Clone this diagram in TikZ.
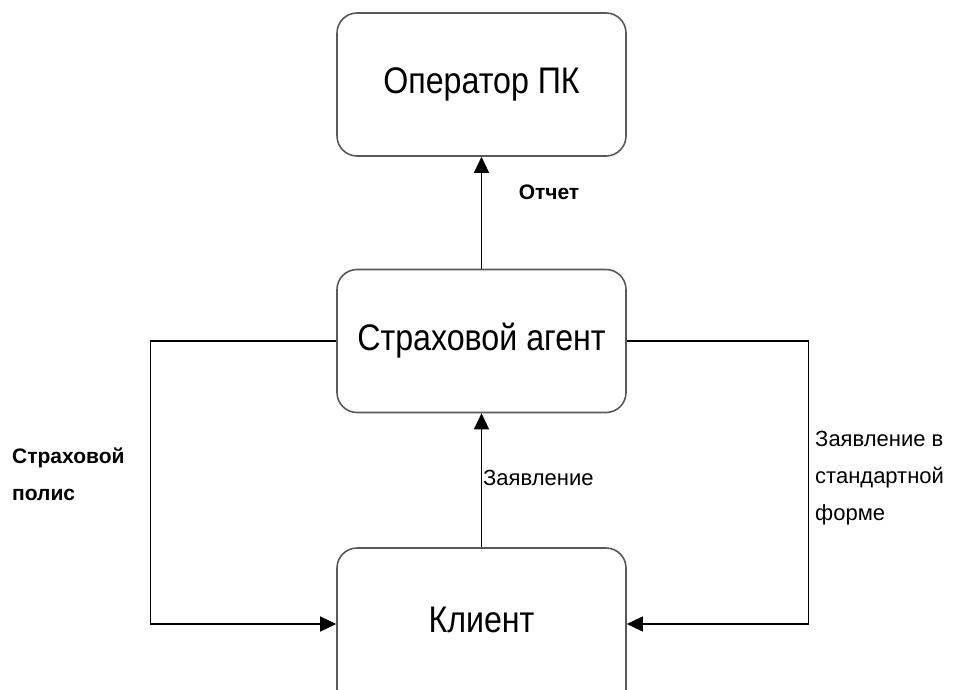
\documentclass[tikz,border=0pt]{standalone}
\usepackage{fontspec}
\setmainfont{Liberation Sans}
\usetikzlibrary{arrows.meta}

% condensed box text
\newcommand{\narrowtext}[1]{\scalebox{0.87}[1]{#1}}

\tikzset{
    unit/.style={draw=black!65,
        line width=1.6pt,
        rounded corners=20pt,
        minimum width=289pt,
        minimum height=143pt,
        inner sep=0pt,
        align=center,
        font=\fontsize{37}{42}\selectfont},
    flowtext/.style={inner sep=0pt,
        align=left,
        font=\fontsize{22}{37}\selectfont},
    flow/.style={line width=1.3pt,
        -{Triangle[length=16pt,width=15pt]}}
}

\begin{document}
\begin{tikzpicture}
\useasboundingbox (0pt,0pt) rectangle (957pt,689pt);

% Operator
\node (operator) [unit,
    xshift=481.5pt,
    yshift=604.5pt
] {\narrowtext{Оператор ПК}};

% Agent
\node (agent) [unit,
    xshift=481.5pt,
    yshift=348pt
] {\narrowtext{Страховой агент}};

% Client (runs past the lower edge)
\node (client) [unit,
    minimum height=190pt,
    text depth=46pt,
    xshift=481.5pt,
    yshift=46pt
] {\narrowtext{Клиент}};

% labels
\node (report) [flowtext,
    font=\fontsize{21}{37}\selectfont\bfseries,
    xshift=549pt,
    yshift=497pt
] {Отчет};

\node (claim) [flowtext,
    anchor=west,
    xshift=483pt,
    yshift=211pt
] {Заявление};

\node (policy) [flowtext,
    font=\fontsize{21}{37}\selectfont\bfseries,
    anchor=west,
    xshift=12pt,
    yshift=215pt
] {Страховой\\полис};

\node (stdclaim) [flowtext,
    anchor=west,
    xshift=815pt,
    yshift=211pt
] {Заявление в\\стандартной\\форме};

% connectors
\draw [flow](agent.north) -- (operator.south);
\draw [flow](client.north) -- (agent.south);
\draw [flow](agent.west) -- ++(-186pt,0) |- ([yshift=19pt]client.west);
\draw [flow](agent.east) -- ++(182pt,0) |- ([yshift=19pt]client.east);

\end{tikzpicture}
\end{document}
